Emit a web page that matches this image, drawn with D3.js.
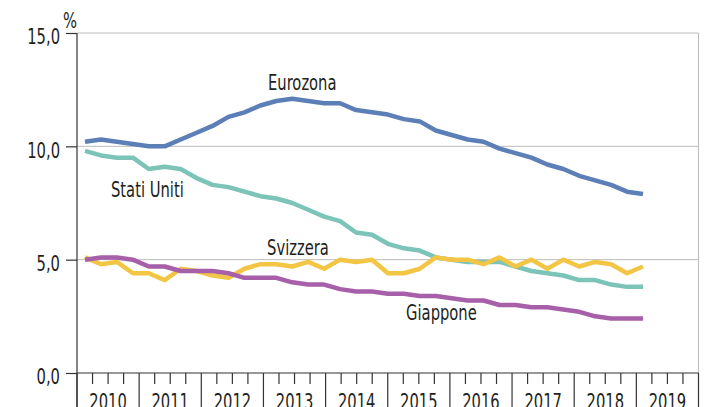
<!DOCTYPE html>
<html>
<head>
<meta charset="utf-8">
<script src="https://cdn.jsdelivr.net/npm/d3@7"></script>
<style>
  body { margin: 0; background: #fff; }
  svg text { font-family: "DejaVu Sans Condensed", "DejaVu Sans", sans-serif; font-stretch: condensed; fill: #231f20; }
</style>
</head>
<body>
<div id="chart"></div>
<script>
// data (unemployment rate, %)
const years = ['2010', '2011', '2012', '2013', '2014', '2015', '2016', '2017', '2018', '2019'];
const yTicks = [0, 5, 10, 15];
const eurozona = [10.2, 10.3, 10.2, 10.1, 10.0, 10.0, 10.3, 10.6, 10.9, 11.3, 11.5, 11.8, 12.0, 12.1, 12.0, 11.9, 11.9, 11.6,
  11.5, 11.4, 11.2, 11.1, 10.7, 10.5, 10.3, 10.2, 9.9, 9.7, 9.5, 9.2, 9.0, 8.7, 8.5, 8.3, 8.0, 7.9];
const statiUniti = [9.8, 9.6, 9.5, 9.5, 9.0, 9.1, 9.0, 8.6, 8.3, 8.2, 8.0, 7.8, 7.7, 7.5, 7.2, 6.9, 6.7, 6.2,
  6.1, 5.7, 5.5, 5.4, 5.1, 5.0, 4.9, 4.9, 4.9, 4.7, 4.5, 4.4, 4.3, 4.1, 4.1, 3.9, 3.8, 3.8];
const svizzera = [5.1, 4.8, 4.9, 4.4, 4.4, 4.1, 4.6, 4.5, 4.3, 4.2, 4.6, 4.8, 4.8, 4.7, 4.9, 4.6, 5.0, 4.9,
  5.0, 4.4, 4.4, 4.6, 5.1, 5.0, 5.0, 4.8, 5.1, 4.7, 5.0, 4.6, 5.0, 4.7, 4.9, 4.8, 4.4, 4.7];
const giappone = [5.0, 5.1, 5.1, 5.0, 4.7, 4.7, 4.5, 4.5, 4.5, 4.4, 4.2, 4.2, 4.2, 4.0, 3.9, 3.9, 3.7, 3.6,
  3.6, 3.5, 3.5, 3.4, 3.4, 3.3, 3.2, 3.2, 3.0, 3.0, 2.9, 2.9, 2.8, 2.7, 2.5, 2.4, 2.4, 2.4];
// quarterly periods 2010-2018
const periods = years.slice(0, 9).flatMap(y => ['T1', 'T2', 'T3', 'T4'].map(q => y + q));

const series = [
  { name: 'Eurozona', values: eurozona, color: '#5b7fb6' },
  { name: 'Stati Uniti', values: statiUniti, color: '#7cc4b7' },
  { name: 'Svizzera', values: svizzera, color: '#f3c545' },
  { name: 'Giappone', values: giappone, color: '#a65fa8' },
];

const width = 706, height = 407;
const m = { left: 77, right: 698.5, top: 33, bottom: 373 };
const SX = 0.78; // horizontal squeeze, the original uses a narrow typeface

const svg = d3.select('#chart').append('svg')
  .attr('width', width)
  .attr('height', height);

const y = d3.scaleLinear().domain([0, 15]).range([m.bottom, m.top]);
const xi = d3.scaleLinear().domain([0, periods.length - 1]).range([85, 643]);
const xYear = d3.scaleBand().domain(years).range([m.left, m.right]);

const it = d3.formatLocale({ decimal: ',', thousands: '.', grouping: [3], currency: ['€', ''] });
const fmt = it.format('.1f');

// narrow the text around its own anchor
function squeeze(sel) {
  sel.each(function () {
    const t = d3.select(this);
    const x = +t.attr('x') || 0;
    const yy = +t.attr('y') || 0;
    t.attr('x', 0).attr('y', 0)
      .attr('transform', `translate(${x},${yy}) scale(${SX},1)`);
  });
}

// gridlines
svg.append('g')
  .selectAll('line')
  .data(yTicks.filter(d => d > 0))
  .enter().append('line')
  .attr('x1', m.left).attr('x2', m.right)
  .attr('y1', d => y(d)).attr('y2', d => y(d))
  .attr('stroke', '#bcbcbc')
  .attr('stroke-width', 1);

// right frame
svg.append('line')
  .attr('x1', m.right).attr('x2', m.right)
  .attr('y1', y(15)).attr('y2', y(0))
  .attr('stroke', '#bcbcbc');

// y axis
const yAxis = svg.append('g')
  .attr('transform', `translate(${m.left},0)`)
  .call(d3.axisLeft(y).tickValues(yTicks).tickSize(11).tickPadding(6).tickFormat(fmt));
yAxis.select('.domain').remove();
yAxis.selectAll('line').attr('stroke', '#333').attr('stroke-width', 1.2);
yAxis.selectAll('text')
  .attr('dy', '0.52em')
  .style('font-size', '21px')
  .attr('fill', '#231f20')
  .call(squeeze);

svg.append('line')
  .attr('x1', m.left).attr('x2', m.left)
  .attr('y1', y(15)).attr('y2', height)
  .attr('stroke', '#333').attr('stroke-width', 1.2);

svg.append('text')
  .attr('x', 63).attr('y', 28)
  .style('font-size', '21px')
  .text('%')
  .call(squeeze);

// x axis
const xAxis = svg.append('g');
xAxis.append('line')
  .attr('x1', m.left).attr('x2', m.right)
  .attr('y1', m.bottom).attr('y2', m.bottom)
  .attr('stroke', '#333').attr('stroke-width', 1.2);

const bw = xYear.bandwidth();
xAxis.selectAll('.major')
  .data(years.concat(['end']))
  .enter().append('line')
  .attr('class', 'major')
  .attr('x1', d => d === 'end' ? m.right : xYear(d))
  .attr('x2', d => d === 'end' ? m.right : xYear(d))
  .attr('y1', m.bottom).attr('y2', height)
  .attr('stroke', '#333').attr('stroke-width', 1.2);

xAxis.selectAll('.minor')
  .data(years.flatMap(yr => [1, 2, 3].map(q => ({ yr, q }))))
  .enter().append('line')
  .attr('class', 'minor')
  .attr('x1', d => xYear(d.yr) + bw * d.q / 4)
  .attr('x2', d => xYear(d.yr) + bw * d.q / 4)
  .attr('y1', m.bottom).attr('y2', m.bottom + 11)
  .attr('stroke', '#333').attr('stroke-width', 1.2);

xAxis.selectAll('.year')
  .data(years)
  .enter().append('text')
  .attr('class', 'year')
  .attr('x', d => xYear(d) + bw / 2)
  .attr('y', 408.5)
  .attr('text-anchor', 'middle')
  .style('font-size', '21px')
  .text(d => d)
  .call(squeeze);

// lines
const line = d3.line()
  .x((d, i) => xi(i))
  .y(d => y(d));

svg.append('g')
  .selectAll('path')
  .data(series)
  .enter().append('path')
  .attr('d', d => line(d.values))
  .attr('fill', 'none')
  .attr('stroke', d => d.color)
  .attr('stroke-width', 4.5)
  .attr('stroke-linejoin', 'round');

// series labels, placed in data space (quarter index, value)
const labels = [
  { text: 'Eurozona', i: 11.48, v: 12.48 },
  { text: 'Stati Uniti', i: 1.63, v: 7.78 },
  { text: 'Svizzera', i: 11.42, v: 5.2 },
  { text: 'Giappone', i: 20.14, v: 2.32 },
];
svg.append('g')
  .selectAll('text')
  .data(labels)
  .enter().append('text')
  .attr('x', d => xi(d.i))
  .attr('y', d => y(d.v))
  .style('font-size', '21px')
  .text(d => d.text)
  .call(squeeze);
</script>
</body>
</html>
